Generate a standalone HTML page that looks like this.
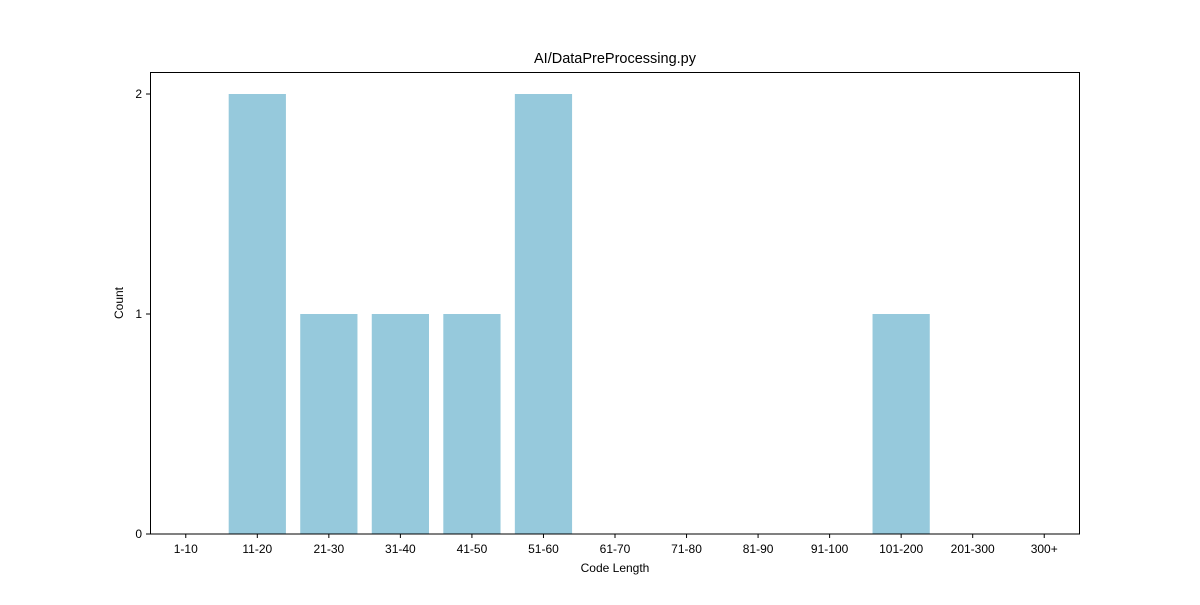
<!DOCTYPE html>
<html><head><meta charset="utf-8"><style>
html,body{margin:0;padding:0;background:#fff;}
svg text{font-family:"Liberation Sans","DejaVu Sans",sans-serif;fill:#000;}
</style></head><body>
<svg id="chart" width="1200" height="600" xmlns="http://www.w3.org/2000/svg">
<rect x="0" y="0" width="1200" height="600" fill="#fff"/>
<text x="615" y="63" font-size="14.5" text-anchor="middle">AI/DataPreProcessing.py</text>
<g id="bars"></g>
<g id="xticks"></g>
<g id="yticks"></g>
<rect x="150.5" y="72.5" width="929" height="461.5" fill="none" stroke="#000" stroke-width="1"/>
<text x="615" y="572" font-size="12" text-anchor="middle">Code Length</text>
<text x="123" y="303" font-size="12" text-anchor="middle" transform="rotate(-90 123 303)">Count</text>
</svg>
<script>
const categories = ["1-10","11-20","21-30","31-40","41-50","51-60","61-70","71-80","81-90","91-100","101-200","201-300","300+"];
const counts = [0,2,1,1,1,2,0,0,0,0,1,0,0];
const yTicks = [0,1,2];

const NS = "http://www.w3.org/2000/svg";
const L = 150, R = 1080, T = 72, B = 534;
const xMin = -0.5, xMax = categories.length - 0.5, yMin = 0, yMax = 2.1;
const xs = v => L + (v - xMin) / (xMax - xMin) * (R - L);
const ys = v => B - (v - yMin) / (yMax - yMin) * (B - T);
const bw = 0.8;

const gb = document.getElementById('bars');
counts.forEach((c, i) => {
  if (c <= 0) return;
  const r = document.createElementNS(NS, 'rect');
  r.setAttribute('x', xs(i - bw / 2));
  r.setAttribute('y', ys(c));
  r.setAttribute('width', xs(i + bw / 2) - xs(i - bw / 2));
  r.setAttribute('height', ys(0) - ys(c));
  r.setAttribute('fill', '#96c9dc');
  
  
  gb.appendChild(r);
});

const gx = document.getElementById('xticks');
categories.forEach((lab, i) => {
  const x = xs(i);
  const l = document.createElementNS(NS, 'line');
  l.setAttribute('x1', x); l.setAttribute('x2', x);
  l.setAttribute('y1', B); l.setAttribute('y2', B + 4);
  l.setAttribute('stroke', '#000');
  
  
  gx.appendChild(l);
  const t = document.createElementNS(NS, 'text');
  t.setAttribute('x', x); t.setAttribute('y', B + 19);
  t.setAttribute('font-size', '12');
  t.setAttribute('text-anchor', 'middle');
  t.textContent = lab;
  
  
  gx.appendChild(t);
});

const gy = document.getElementById('yticks');
yTicks.forEach(v => {
  const y = ys(v);
  const l = document.createElementNS(NS, 'line');
  l.setAttribute('x1', L - 4); l.setAttribute('x2', L);
  l.setAttribute('y1', y); l.setAttribute('y2', y);
  l.setAttribute('stroke', '#000');
  
  
  gy.appendChild(l);
  const t = document.createElementNS(NS, 'text');
  t.setAttribute('x', L - 8); t.setAttribute('y', y + 4);
  t.setAttribute('font-size', '12');
  t.setAttribute('text-anchor', 'end');
  t.textContent = v;
  
  
  gy.appendChild(t);
});
</script>
</body></html>
